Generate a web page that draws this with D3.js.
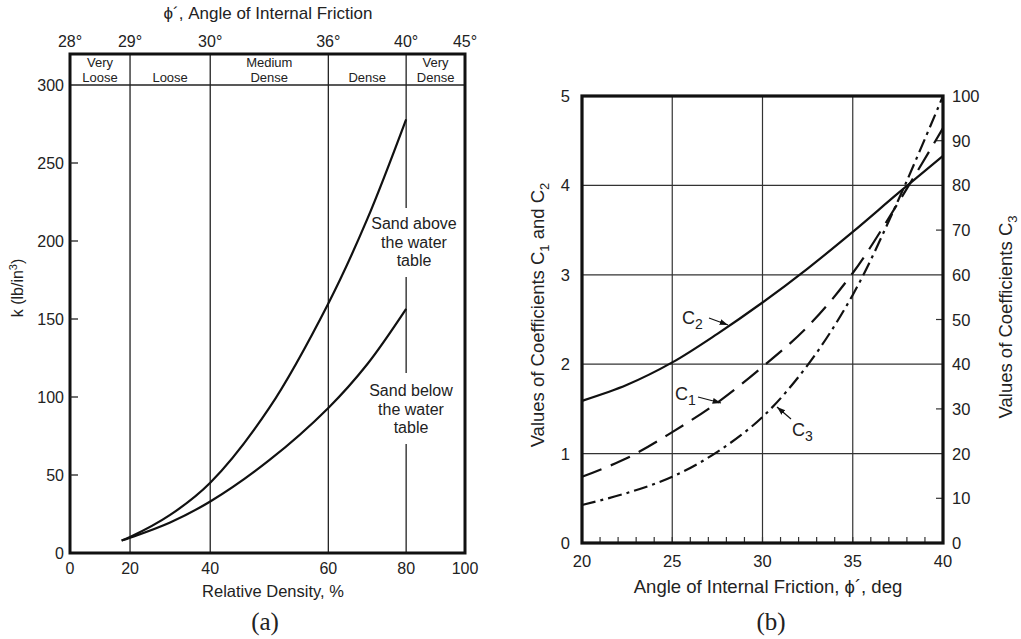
<!DOCTYPE html>
<html>
<head>
<meta charset="utf-8">
<script src="https://cdnjs.cloudflare.com/ajax/libs/d3/7.8.5/d3.min.js"></script>
<style>
  body { margin: 0; background: #fff; }
  svg text { font-family: "Liberation Sans", Arial, sans-serif; fill: #222; }
</style>
</head>
<body>
<div id="graph"></div>
<script>
// chart (a): k vs relative density
const densityTicks = [0, 20, 40, 60, 80, 100];
const frictionLabels = ["28°", "29°", "30°", "36°", "40°", "45°"];
const bandNames = [["Very", "Loose"], ["Loose"], ["Medium", "Dense"], ["Dense"], ["Very", "Dense"]];
const kTicks = [0, 50, 100, 150, 200, 250, 300];
const density = [17.2, 20, 30, 40, 50, 60, 70, 80];
const kAbove = [8, 10.2, 24.4, 45, 93, 160, 214, 278];
const kBelow = [8, 9.8, 19.6, 33, 59.5, 93, 121, 156.5];

// chart (b): coefficients vs friction angle
const phi = [20, 22.5, 25, 27.5, 30, 32.5, 35, 37.5, 40];
const c1 = [0.74, 0.95, 1.24, 1.57, 1.97, 2.42, 3.02, 3.8, 4.64];
const c2 = [1.59, 1.77, 2.02, 2.34, 2.69, 3.07, 3.48, 3.91, 4.33];
const c3 = [8.5, 11.2, 14.8, 20.4, 28.2, 39.8, 55.5, 76.5, 100];
const phiTicks = [20, 25, 30, 35, 40];
const cTicks = [0, 1, 2, 3, 4, 5];
const c3Ticks = [0, 10, 20, 30, 40, 50, 60, 70, 80, 90, 100];

const svg = d3.select("#graph").append("svg")
	.attr("width", 1021)
	.attr("height", 639);

// ---------- (a) ----------
const boxA = {left: 70, right: 465, top: 54, bottom: 553};
const wA = boxA.right - boxA.left;
// density axis is not uniform, it follows the friction angle marks
const xA = d3.scaleLinear()
	.domain(densityTicks)
	.range([0, 0.152, 0.355, 0.654, 0.851, 1].map(f => boxA.left + f * wA));
const yA = d3.scaleLinear().domain([0, 300]).range([boxA.bottom, 85]);

const gA = svg.append("g");

// divider lines, the one at 80 leaves room for the labels
densityTicks.slice(1, 4).forEach(d => {
	gA.append("line")
		.attr("x1", xA(d)).attr("x2", xA(d))
		.attr("y1", boxA.top).attr("y2", boxA.bottom)
		.attr("stroke", "#222").attr("stroke-width", 1.3);
});
[[boxA.top, 208], [277, 373], [444, boxA.bottom]].forEach(s => {
	gA.append("line")
		.attr("x1", xA(80)).attr("x2", xA(80))
		.attr("y1", s[0]).attr("y2", s[1])
		.attr("stroke", "#222").attr("stroke-width", 1.3);
});

gA.append("line")
	.attr("x1", boxA.left).attr("x2", boxA.right)
	.attr("y1", yA(300)).attr("y2", yA(300))
	.attr("stroke", "#222").attr("stroke-width", 1.6);

gA.append("rect")
	.attr("x", boxA.left).attr("y", boxA.top)
	.attr("width", wA).attr("height", boxA.bottom - boxA.top)
	.attr("fill", "none").attr("stroke", "#111").attr("stroke-width", 3);

// y ticks
gA.selectAll(".ytick").data(kTicks.slice(1, 6)).enter().append("line")
	.attr("x1", boxA.left).attr("x2", boxA.left + 8)
	.attr("y1", d => yA(d)).attr("y2", d => yA(d))
	.attr("stroke", "#222").attr("stroke-width", 1.3);

gA.selectAll(".ylab").data(kTicks).enter().append("text")
	.attr("x", boxA.left - 6).attr("y", d => yA(d) + 6)
	.attr("text-anchor", "end").attr("font-size", 16)
	.text(d => d);

gA.selectAll(".xlab").data(densityTicks).enter().append("text")
	.attr("x", d => xA(d)).attr("y", boxA.bottom + 21)
	.attr("text-anchor", "middle").attr("font-size", 16)
	.text(d => d);

gA.selectAll(".toplab").data(frictionLabels).enter().append("text")
	.attr("x", (d, i) => xA(densityTicks[i])).attr("y", 47)
	.attr("text-anchor", "middle").attr("font-size", 16)
	.text(d => d);

// band names
bandNames.forEach((lines, i) => {
	const cx = (xA(densityTicks[i]) + xA(densityTicks[i + 1])) / 2;
	lines.forEach((t, j) => {
		gA.append("text")
			.attr("x", cx).attr("y", 82 - (lines.length - 1 - j) * 15)
			.attr("text-anchor", "middle").attr("font-size", 13)
			.text(t);
	});
});

gA.append("text")
	.attr("x", 268).attr("y", 19)
	.attr("text-anchor", "middle").attr("font-size", 17)
	.text("ϕ´, Angle of Internal Friction");

const kTitle = gA.append("text")
	.attr("transform", "translate(23,288) rotate(-90)")
	.attr("text-anchor", "middle").attr("font-size", 16);
kTitle.append("tspan").text("k (lb/in");
kTitle.append("tspan").attr("font-size", 11).attr("dy", -6).text("3");
kTitle.append("tspan").attr("dy", 6).text(")");

gA.append("text")
	.attr("x", 273).attr("y", 597)
	.attr("text-anchor", "middle").attr("font-size", 16.5)
	.text("Relative Density, %");

gA.append("text")
	.attr("x", 265).attr("y", 630)
	.attr("text-anchor", "middle").attr("font-size", 25)
	.style("font-family", "'Liberation Serif', 'Times New Roman', serif")
	.text("(a)");

const lineA = d3.line()
	.x((d, i) => xA(density[i]))
	.y(d => yA(d))
	.curve(d3.curveCatmullRom.alpha(0.5));

[kAbove, kBelow].forEach(s => {
	gA.append("path")
		.attr("d", lineA(s))
		.attr("fill", "none").attr("stroke", "#111").attr("stroke-width", 2.2);
});

[["Sand above", "the water", "table", 229, 414], ["Sand below", "the water", "table", 396, 411]].forEach(l => {
	for (let j = 0; j < 3; j++) {
		gA.append("text")
			.attr("x", l[4]).attr("y", l[3] + j * 18.5)
			.attr("text-anchor", "middle").attr("font-size", 16)
			.text(l[j]);
	}
});

// ---------- (b) ----------
const boxB = {left: 582, right: 943, top: 96, bottom: 543};
const xB = d3.scaleLinear().domain([20, 40]).range([boxB.left, boxB.right]);
const yB = d3.scaleLinear().domain([0, 5]).range([boxB.bottom, boxB.top]);
const yB3 = d3.scaleLinear().domain([0, 100]).range([boxB.bottom, boxB.top]);

const gB = svg.append("g");

gB.selectAll(".vgrid").data(phiTicks.slice(1, 4)).enter().append("line")
	.attr("x1", d => xB(d)).attr("x2", d => xB(d))
	.attr("y1", boxB.top).attr("y2", boxB.bottom)
	.attr("stroke", "#333").attr("stroke-width", 1.2);

gB.selectAll(".hgrid").data(cTicks.slice(1, 5)).enter().append("line")
	.attr("x1", boxB.left).attr("x2", boxB.right)
	.attr("y1", d => yB(d)).attr("y2", d => yB(d))
	.attr("stroke", "#333").attr("stroke-width", 1.2);

// minor ticks every degree
gB.selectAll(".minor").data(d3.range(21, 40)).enter().append("line")
	.attr("x1", d => xB(d)).attr("x2", d => xB(d))
	.attr("y1", boxB.bottom).attr("y2", boxB.bottom - 6)
	.attr("stroke", "#333").attr("stroke-width", 1.2);

gB.selectAll(".rtick").data([10, 30, 50, 70, 90]).enter().append("line")
	.attr("x1", boxB.right).attr("x2", boxB.right - 7)
	.attr("y1", d => yB3(d)).attr("y2", d => yB3(d))
	.attr("stroke", "#333").attr("stroke-width", 1.2);

gB.append("rect")
	.attr("x", boxB.left).attr("y", boxB.top)
	.attr("width", boxB.right - boxB.left).attr("height", boxB.bottom - boxB.top)
	.attr("fill", "none").attr("stroke", "#111").attr("stroke-width", 3.2);

gB.selectAll(".lab").data(cTicks).enter().append("text")
	.attr("x", boxB.left - 12).attr("y", d => yB(d) + 6)
	.attr("text-anchor", "end").attr("font-size", 16.5)
	.text(d => d);

gB.selectAll(".rlab").data(c3Ticks).enter().append("text")
	.attr("x", boxB.right + 9).attr("y", d => yB3(d) + 6)
	.attr("text-anchor", "start").attr("font-size", 16.5)
	.text(d => d);

gB.selectAll(".blab").data(phiTicks).enter().append("text")
	.attr("x", d => xB(d)).attr("y", boxB.bottom + 24)
	.attr("text-anchor", "middle").attr("font-size", 16.5)
	.text(d => d);

gB.append("text")
	.attr("x", 768).attr("y", 593)
	.attr("text-anchor", "middle").attr("font-size", 18.5)
	.text("Angle of Internal Friction, ϕ´, deg");

gB.append("text")
	.attr("x", 771).attr("y", 630)
	.attr("text-anchor", "middle").attr("font-size", 25)
	.style("font-family", "'Liberation Serif', 'Times New Roman', serif")
	.text("(b)");

const leftTitle = gB.append("text")
	.attr("transform", "translate(544,315) rotate(-90)")
	.attr("text-anchor", "middle").attr("font-size", 18.5);
leftTitle.append("tspan").text("Values of Coefficients C");
leftTitle.append("tspan").attr("font-size", 13).attr("dy", 5).text("1");
leftTitle.append("tspan").attr("dy", -5).text(" and C");
leftTitle.append("tspan").attr("font-size", 13).attr("dy", 5).text("2");

const rightTitle = gB.append("text")
	.attr("transform", "translate(1012,317) rotate(-90)")
	.attr("text-anchor", "middle").attr("font-size", 18.5);
rightTitle.append("tspan").text("Values of Coefficients C");
rightTitle.append("tspan").attr("font-size", 13).attr("dy", 5).text("3");

const lineB = d3.line()
	.x((d, i) => xB(phi[i]))
	.y(d => yB(d))
	.curve(d3.curveCatmullRom.alpha(0.5));
const lineB3 = d3.line()
	.x((d, i) => xB(phi[i]))
	.y(d => yB3(d))
	.curve(d3.curveCatmullRom.alpha(0.5));

gB.append("path").attr("d", lineB(c2))
	.attr("fill", "none").attr("stroke", "#111").attr("stroke-width", 2.2);
gB.append("path").attr("d", lineB(c1))
	.attr("fill", "none").attr("stroke", "#111").attr("stroke-width", 2.2)
	.attr("stroke-dasharray", "21,10");
gB.append("path").attr("d", lineB3(c3))
	.attr("fill", "none").attr("stroke", "#111").attr("stroke-width", 2.2)
	.attr("stroke-dasharray", "14,5,3,5");

svg.append("defs").append("marker")
	.attr("id", "arr").attr("viewBox", "0 0 10 10")
	.attr("refX", 10).attr("refY", 5)
	.attr("markerWidth", 7).attr("markerHeight", 7)
	.attr("orient", "auto")
	.append("path").attr("d", "M0,1.5 L10,5 L0,8.5 Z").attr("fill", "#111");

// curve labels with arrows
const callouts = [
	{name: "2", tx: 682, ty: 324, x1: 709, y1: 318, x2: 728, y2: 325},
	{name: "1", tx: 675, ty: 400, x1: 698, y1: 397, x2: 721, y2: 403},
	{name: "3", tx: 792, ty: 436, x1: 791, y1: 419, x2: 777, y2: 407}
];
callouts.forEach(c => {
	const t = gB.append("text").attr("x", c.tx).attr("y", c.ty).attr("font-size", 18);
	t.append("tspan").text("C");
	t.append("tspan").attr("font-size", 14).attr("dy", 5).text(c.name);
	gB.append("line")
		.attr("x1", c.x1).attr("y1", c.y1).attr("x2", c.x2).attr("y2", c.y2)
		.attr("stroke", "#111").attr("stroke-width", 1.2)
		.attr("marker-end", "url(#arr)");
});
</script>
</body>
</html>
